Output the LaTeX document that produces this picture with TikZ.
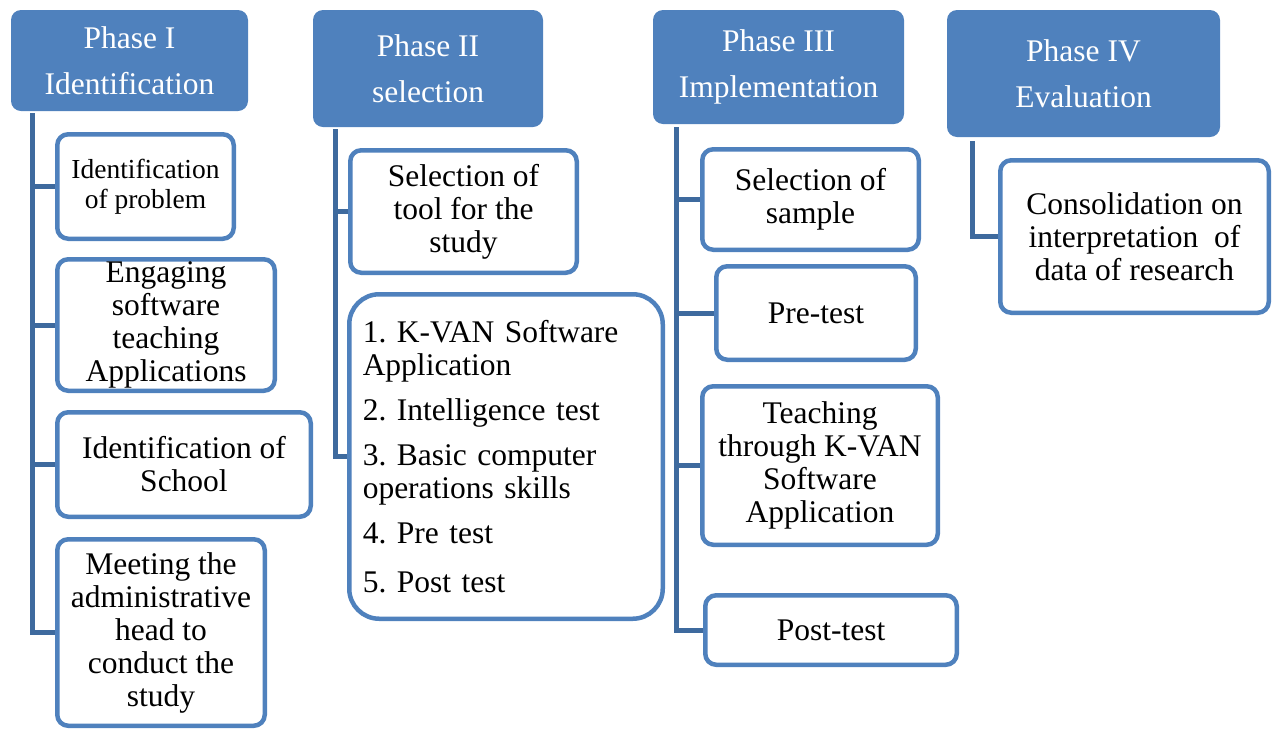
\documentclass[tikz,border=0pt]{standalone}
\usepackage{fontspec}
\setmainfont{Liberation Serif}
\usetikzlibrary{backgrounds}

\definecolor{phaseblue}{RGB}{79,129,189}
\definecolor{linkblue}{RGB}{62,106,158}

\begin{document}
\frenchspacing
\begin{tikzpicture}[x=1pt,y=-1pt,
    phase/.style={rectangle,rounded corners=10pt,fill=phaseblue,text=white,inner sep=0pt,
      align=center,font=\fontsize{31.5}{46}\selectfont},
    item/.style={rectangle,rounded corners=11pt,draw=phaseblue,line width=4.5pt,fill=white,
      inner sep=0pt,align=center,font=\fontsize{31.5}{33}\selectfont},
    link/.style={draw=linkblue,line width=5pt}]

    \useasboundingbox (0,0) rectangle (1277,729);

    % phase headers
    \node[phase,minimum width=237,minimum height=101] (h1) at (129.5,60.5) {Phase I\\Identification};
    \node[phase,minimum width=230,minimum height=117] (h2) at (428,68.5) {Phase II\\selection};
    \node[phase,minimum width=251,minimum height=114] (h3) at (778.5,67) {Phase III\\Implementation};
    \node[phase,minimum width=273,minimum height=127] (h4) at (1083.5,73.5) {Phase IV\\Evaluation};

    % phase I steps
    \node[item,minimum width=176.5,minimum height=104.5,font=\fontsize{27.5}{30}\selectfont] (c11) at (145.5,186.5) {Identification\\of problem};
    \node[item,minimum width=217.5,minimum height=131.5] (c12) at (166,325) {Engaging\\software\\teaching\\Applications};
    \node[item,minimum width=253.5,minimum height=104.5] (c13) at (184,464.5) {Identification of\\School};
    \node[item,minimum width=207.5,minimum height=186.5] (c14) at (161,632.5) {Meeting the\\administrative\\head to\\conduct the\\study};

    % phase II steps
    \node[item,minimum width=226.5,minimum height=122.5] (c21) at (463.5,211.5) {Selection of\\tool for the\\study};
    \node[item,rounded corners=30pt,minimum width=313.5,minimum height=324.5,inner xsep=13.5pt,
      text width=286.5,align=left,font=\fontsize{31.5}{33}\selectfont\frenchspacing] (c22) at (506,456.5)
      {1. K-VAN Software\\Application\\[12pt]2. Intelligence test\\[12pt]3. Basic computer\\operations skills\\[12pt]4. Pre test\\[16pt]5. Post test};

    % phase III steps
    \node[item,minimum width=216.5,minimum height=100.5] (c31) at (810.5,199.5) {Selection of\\sample};
    \node[item,minimum width=199.5,minimum height=93.5] (c32) at (816,313) {Pre-test};
    \node[item,minimum width=235.5,minimum height=158.5] (c33) at (820,465.5) {Teaching\\through K-VAN\\Software\\Application};
    \node[item,minimum width=251.5,minimum height=69.5] (c34) at (831,630) {Post-test};

    % phase IV step
    \node[item,minimum width=268.5,minimum height=152.5] (c41) at (1134.5,236.5) {Consolidation on\\interpretation~ of\\data of research};

    % trunk tops
    \coordinate (t1) at (32,113);
    \coordinate (t2) at (335,129);
    \coordinate (t3) at (676,127);
    \coordinate (t4) at (972,141);

    % draw connectors
    \begin{scope}[on background layer]
      \foreach \c in {c11,c12,c13,c14} \draw[link] (t1) |- (\c.west);
      \foreach \c in {c21,c22} \draw[link] (t2) |- (\c.west);
      \foreach \c in {c31,c32,c33,c34} \draw[link] (t3) |- (\c.west);
      \draw[link] (t4) |- (c41.west);
    \end{scope}
\end{tikzpicture}
\end{document}
